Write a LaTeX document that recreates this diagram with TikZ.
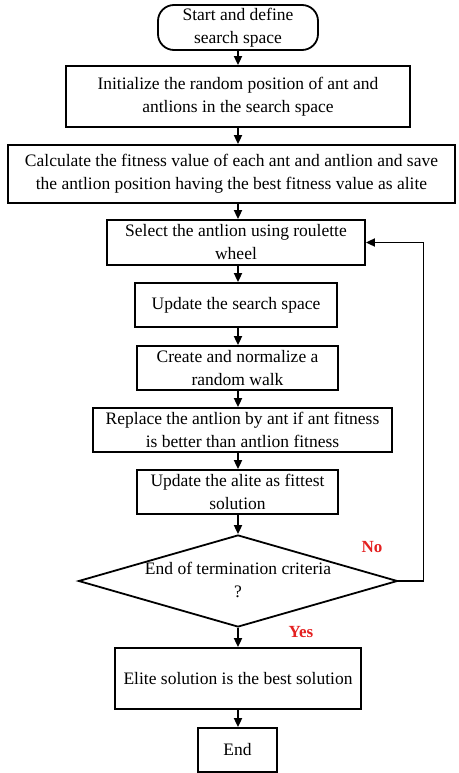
\documentclass[tikz,border=0pt]{standalone}
\usepackage{fontspec}
\setmainfont{Liberation Serif}
\usetikzlibrary{arrows.meta,shapes.geometric}

\definecolor{labred}{RGB}{228,32,32}

\begin{document}
\begin{tikzpicture}[x=1pt, y=-1pt, >={Triangle[length=9pt,width=8pt]},
  line width=1.8pt,
  font=\fontsize{17.5}{23}\selectfont,
  stepbox/.style={rectangle,draw,align=center,inner sep=0pt},
  termbox/.style={stepbox,rounded corners=16pt},
  decide/.style={diamond,draw,align=center,inner sep=0pt},
  answer/.style={font=\fontsize{17}{20}\selectfont\bfseries,text=labred}]
  \useasboundingbox (0,0) rectangle (458,773);
  \node[termbox,minimum width=160,minimum height=45] (start) at (238,27.5) {Start and define\\search space};
  \node[stepbox,minimum width=344,minimum height=61] (init) at (238,96.5) {Initialize the random position of ant and\\antlions in the search space};
  \node[stepbox,minimum width=447,minimum height=58] (calc) at (231.5,174) {Calculate the fitness value of each ant and antlion and save\\the antlion position having the best fitness value as alite};
  \node[stepbox,minimum width=258,minimum height=45] (select) at (236,242.5) {Select the antlion using roulette\\wheel};
  \node[stepbox,minimum width=202,minimum height=44] (space) at (236,305) {Update the search space};
  \node[stepbox,minimum width=201,minimum height=44] (walk) at (237.5,368) {Create and normalize a\\random walk};
  \node[stepbox,minimum width=299,minimum height=44] (replace) at (242.5,430) {Replace the antlion by ant if ant fitness\\is better than antlion fitness};
  \node[stepbox,minimum width=201,minimum height=44] (alite) at (237.5,492) {Update the alite as fittest\\solution};
  \node[decide,minimum width=319,minimum height=92,aspect=3.47] (crit) at (238,581) {};
  \node[align=center] (critlbl) at (238,580) {End of termination criteria\\?};
  \node[stepbox,minimum width=246,minimum height=61] (elite) at (238,678.5) {Elite solution is the best solution};
  \node[stepbox,minimum width=79,minimum height=44] (end) at (237.5,750) {End};
  \node[answer] (no) at (372,547) {No};
  \node[answer] (yes) at (301,632) {Yes};

  \foreach \a/\b in {start/init,init/calc,calc/select,select/space,space/walk,
      walk/replace,replace/alite,alite/crit,crit/elite,elite/end}
    \draw[->] (start |- \a.south) -- (start |- \b.north);
  \draw[->] (crit.east) -- ++(25,0) |- (select.east);
\end{tikzpicture}
\end{document}
